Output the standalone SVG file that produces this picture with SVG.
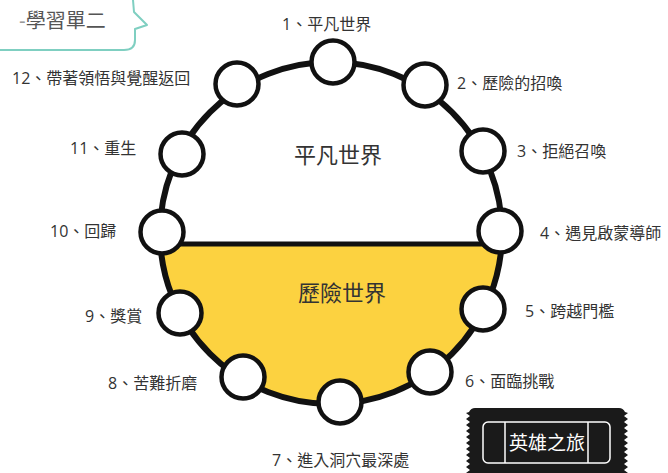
<svg xmlns="http://www.w3.org/2000/svg" width="668" height="473" viewBox="0 0 668 473">
<defs>
<style>
.lbl{font-family:"Open Sans","Noto Sans CJK TC",sans-serif;font-size:16px;fill:#333333}
.big{font-family:"Noto Sans CJK TC",sans-serif;font-size:22px;fill:#333333;text-anchor:middle}
.node{fill:#ffffff;stroke:#111111;stroke-width:4.5}
.ring{fill:none;stroke:#111111;stroke-width:6}
</style>
</defs>
<rect width="668" height="473" fill="#ffffff"/>
<g id="header">
<path d="M0,50 L124,50 Q135,50 135,40 L135,29 L147,25 L134,12 L133,0" fill="none" stroke="#7fcfc1" stroke-width="2" stroke-linejoin="round"/>
<text x="19" y="28" font-family="Liberation Sans, Noto Sans CJK TC, sans-serif" font-size="20" fill="#555555"><tspan fill="#999999">-</tspan>學習單二</text>
</g>
<g id="worlds">
<path d="M160.4,244 A171,171 0 0 0 501.6,244 Z" fill="#fcd240"/>
<text class="big" x="338" y="163">平凡世界</text>
<text class="big" x="342" y="301">歷險世界</text>
</g>
<g id="connectors">
<circle class="ring" cx="331" cy="233" r="171"/>
<line x1="160" y1="244" x2="502" y2="244" stroke="#111111" stroke-width="5"/>
</g>
<g id="n1"><circle class="node" cx="333" cy="62" r="21.5"/><text class="lbl" x="282" y="30">1、平凡世界</text></g>
<g id="n2"><circle class="node" cx="425" cy="85" r="21.5"/><text class="lbl" x="457" y="89">2、歷險的招喚</text></g>
<g id="n3"><circle class="node" cx="483" cy="151" r="21.5"/><text class="lbl" x="517" y="157">3、拒絕召喚</text></g>
<g id="n4"><circle class="node" cx="500" cy="231" r="21.5"/><text class="lbl" x="540" y="239">4、遇見啟蒙導師</text></g>
<g id="n5"><circle class="node" cx="483" cy="309" r="21.5"/><text class="lbl" x="525" y="317">5、跨越門檻</text></g>
<g id="n6"><circle class="node" cx="430" cy="372" r="21.5"/><text class="lbl" x="465" y="387">6、面臨挑戰</text></g>
<g id="n7"><circle class="node" cx="340" cy="402" r="21.5"/><text class="lbl" x="272" y="466">7、進入洞穴最深處</text></g>
<g id="n8"><circle class="node" cx="243" cy="377" r="21.5"/><text class="lbl" x="108" y="389">8、苦難折磨</text></g>
<g id="n9"><circle class="node" cx="180" cy="313" r="21.5"/><text class="lbl" x="85" y="322">9、獎賞</text></g>
<g id="n10"><circle class="node" cx="162" cy="232" r="21.5"/><text class="lbl" x="50" y="237">10、回歸</text></g>
<g id="n11"><circle class="node" cx="182" cy="154" r="21.5"/><text class="lbl" x="70" y="154">11、重生</text></g>
<g id="n12"><circle class="node" cx="237" cy="84" r="21.5"/><text class="lbl" x="12" y="84">12、帶著領悟與覺醒返回</text></g>
<g id="ticket">
<path d="M466,473 L470,470 L466,467 L470,464 L466,461 L470,458 L466,455 L470,452 L466,449 L470,446 L466,443 L470,440 L466,437 L470,434 L466,431 L470,428 L466,425 L470,422 L466,419 L470,416 L466,413 L469,412 Q471,408 475,408 L619,408 Q623,408 625,412 L628,413 L624,416 L628,419 L624,422 L628,425 L624,428 L628,431 L624,434 L628,437 L624,440 L628,443 L624,446 L628,449 L624,452 L628,455 L624,458 L628,461 L624,464 L628,467 L624,470 L628,473 Z" fill="#1a1a1a"/>
<rect x="483" y="422" width="127" height="41" rx="5" fill="none" stroke="#ffffff" stroke-width="1.5"/>
<line x1="505" y1="422" x2="505" y2="463" stroke="#ffffff" stroke-width="1.5"/>
<line x1="588" y1="422" x2="588" y2="463" stroke="#ffffff" stroke-width="1.5"/>
<text x="547" y="450" text-anchor="middle" font-family="Noto Sans CJK TC, sans-serif" font-size="19" fill="#ffffff">英雄之旅</text>
</g>
</svg>
